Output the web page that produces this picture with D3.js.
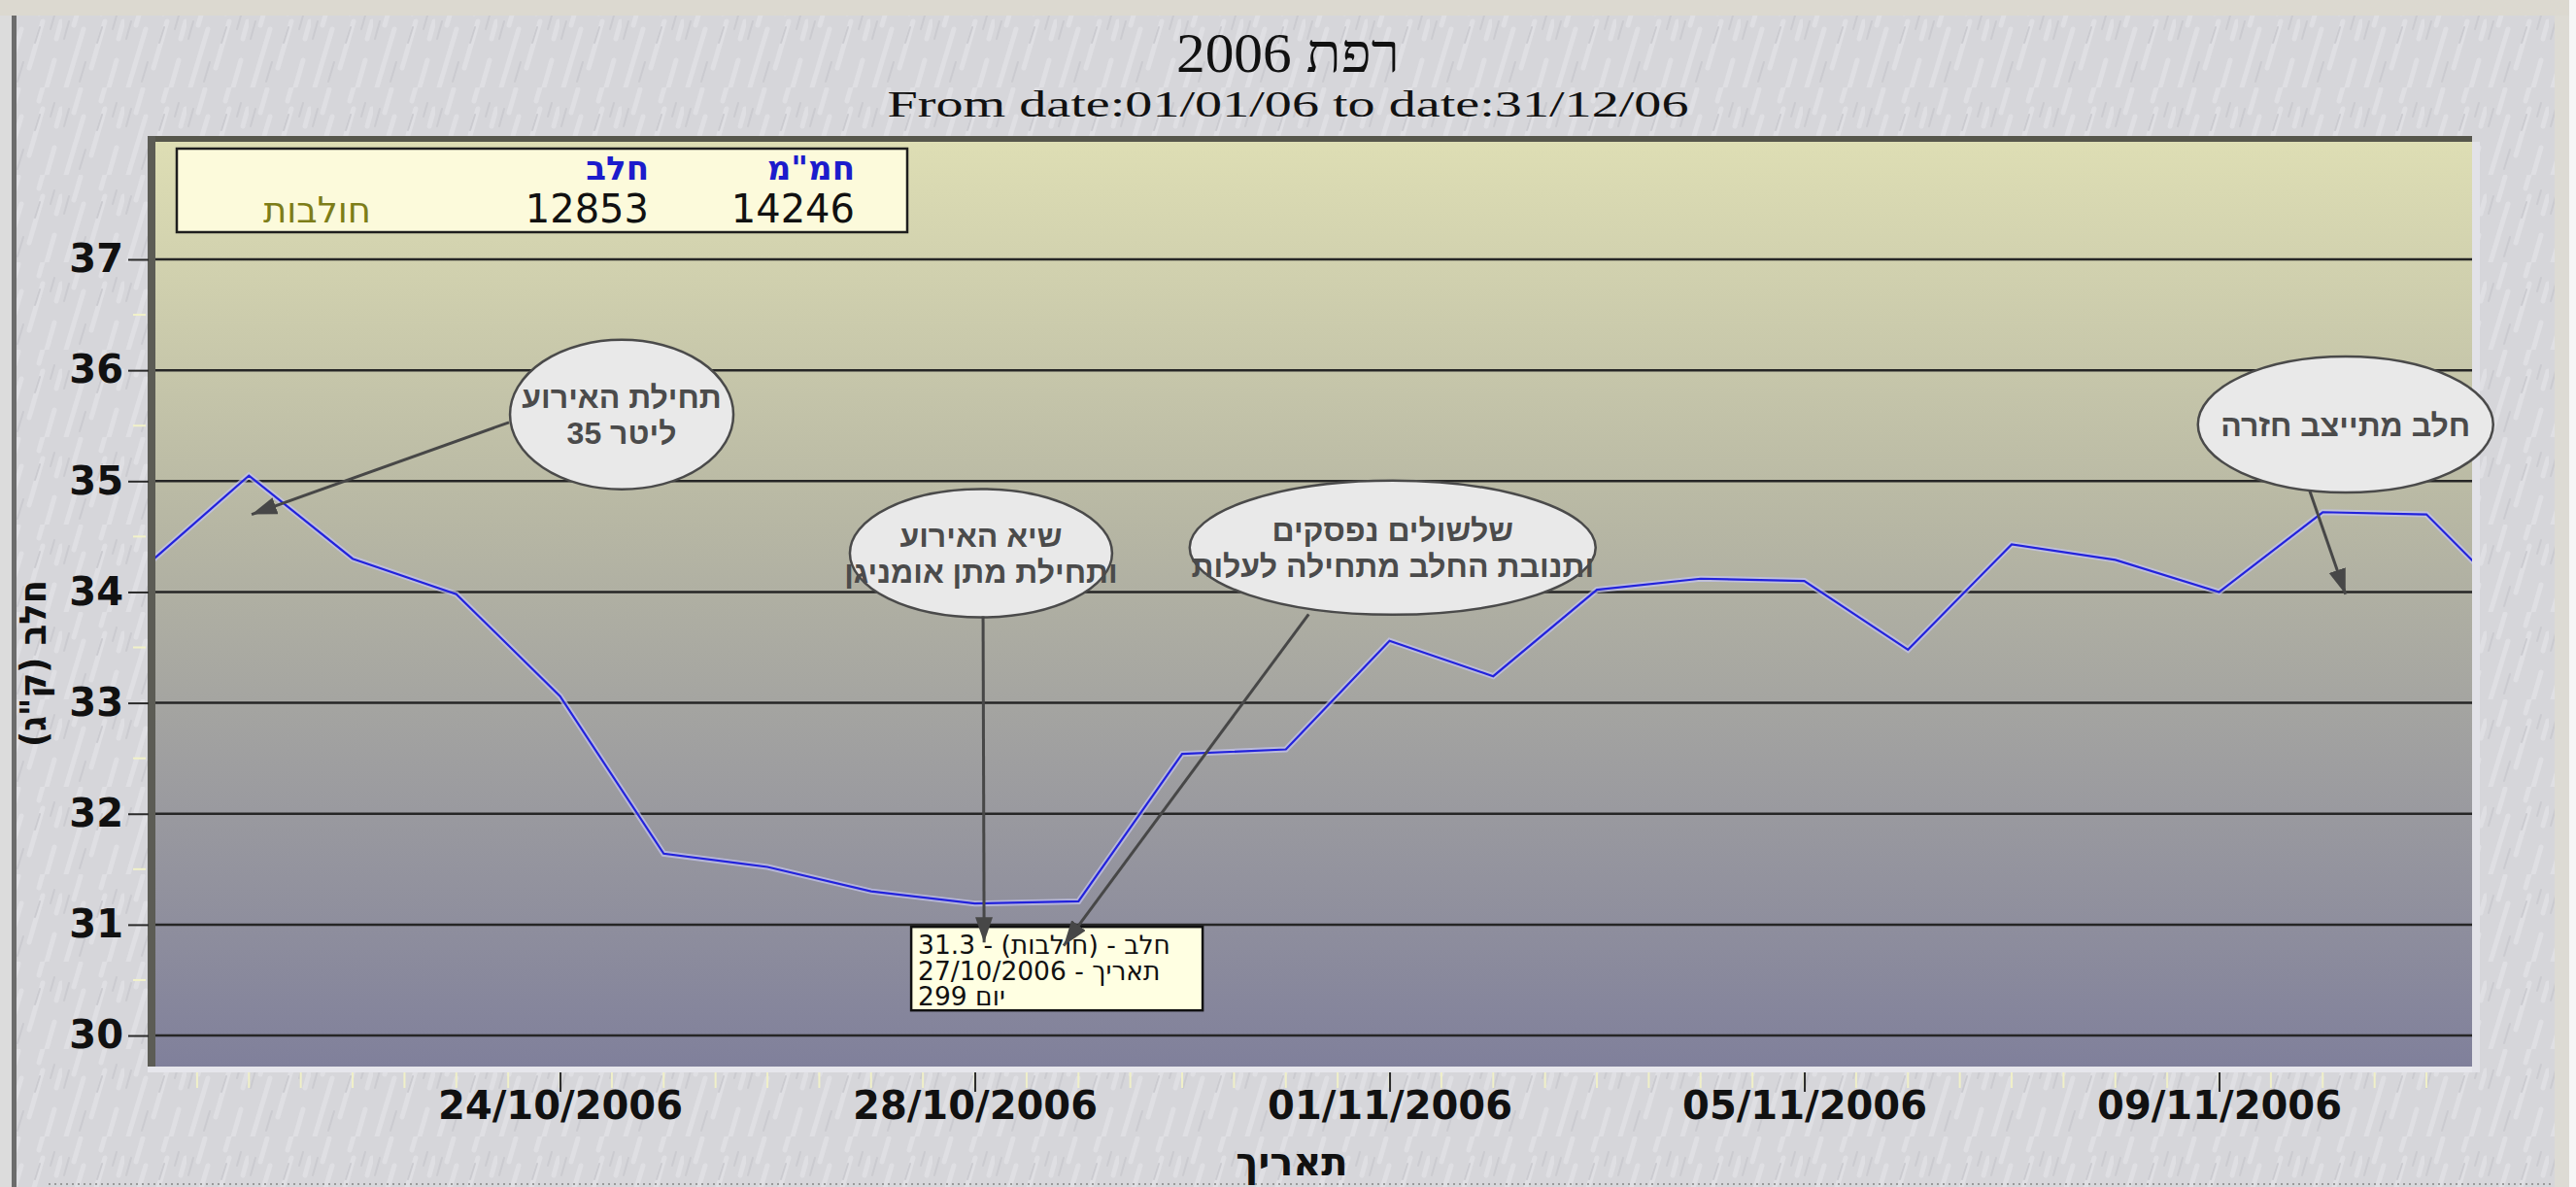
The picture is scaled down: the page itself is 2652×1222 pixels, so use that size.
<!DOCTYPE html>
<html>
<head>
<meta charset="utf-8">
<script src="https://cdn.jsdelivr.net/npm/d3@7"></script>
<style>
  body { margin: 0; background: #fff; }
  svg { display: block; }
</style>
</head>
<body>
<svg id="chart" width="2652" height="1222"></svg>
<script>
// daily milk per cow (kg)
var days = ["20/10/2006", "21/10/2006", "22/10/2006", "23/10/2006", "24/10/2006", "25/10/2006",
            "26/10/2006", "27/10/2006", "28/10/2006", "29/10/2006", "30/10/2006", "31/10/2006",
            "01/11/2006", "02/11/2006", "03/11/2006", "04/11/2006", "05/11/2006", "06/11/2006",
            "07/11/2006", "08/11/2006", "09/11/2006", "10/11/2006", "11/11/2006", "12/11/2006"];
var milk = [34.23, 35.05, 34.30, 33.98, 33.06, 31.64,
            31.52, 31.30, 31.19, 31.21, 32.54, 32.58,
            33.56, 33.24, 34.02, 34.12, 34.10, 33.48,
            34.43, 34.29, 34.00, 34.72, 34.70, 33.76];
var xTickLabels = ["24/10/2006", "28/10/2006", "01/11/2006", "05/11/2006", "09/11/2006"];
var yTicks = [30, 31, 32, 33, 34, 35, 36, 37];

var legendHeads = ['חמ"מ', 'חלב'];
var legendValues = ['14246', '12853'];
var legendRowName = 'חולבות';

var tipLines = ['חלב - (חולבות) - 31.3', 'תאריך - 27/10/2006', 'יום 299'];

// callouts: centre given as (day from 20/10, milk value)
var notes = [
  { day: 4.595, v: 35.60, rx: 115, ry: 77, lines: ['תחילת האירוע', '35 ליטר'] },
  { day: 8.06,  v: 34.35, rx: 135, ry: 66, lines: ['שיא האירוע', 'ותחילת מתן אומניגן'] },
  { day: 12.03, v: 34.40, rx: 209, ry: 69, lines: ['שלשולים נפסקים', 'ותנובת החלב מתחילה לעלות'] },
  { day: 21.22, v: 35.51, rx: 152, ry: 70, lines: ['חלב מתייצב חזרה'] }
];
var arrows = [
  { from: [3.508, 35.53], to: [1.026, 34.70] },
  { from: [8.08, 33.78],  to: [8.09, 30.84] },
  { from: [11.22, 33.80], to: [8.857, 30.81] },
  { from: [20.875, 34.91], to: [21.22, 33.98] }
];

var W = 2652, H = 1222;
var L = 160, R = 2545, T = 146, B = 1098;
var DAY = 864e5;

var parseDay = d3.utcParse("%d/%m/%Y");
var fmtDay = d3.utcFormat("%d/%m/%Y");
var dates = days.map(parseDay);
var data = dates.map(function(d, i) { return { date: d, v: milk[i] }; });
var t0 = +dates[0];
function dayDate(n) { return new Date(t0 + n * DAY); }

var x = d3.scaleUtc().domain([dayDate(0.098), dayDate(22.44)]).range([L, R]);
var y = d3.scaleLinear().domain([29.72, 38.06]).range([B, T]);

var svg = d3.select("#chart");
var defs = svg.append("defs");

// background texture
var pat = defs.append("pattern").attr("id", "tex")
  .attr("patternUnits", "userSpaceOnUse").attr("width", 64).attr("height", 90);
pat.append("rect").attr("width", 64).attr("height", 90).attr("fill", "#d6d6da");
pat.append("path")
  .attr("d", "M4,90 L22,30 M30,70 L44,22 M48,90 L56,62 M12,26 L19,2 M40,14 L44,0 M58,40 L63,22")
  .attr("stroke", "#dfdfe3").attr("stroke-width", 5).attr("stroke-linecap", "round");
pat.append("path")
  .attr("d", "M18,84 L24,64 M36,44 L41,28 M2,40 L7,22 M52,30 L56,16")
  .attr("stroke", "#cbcbd0").attr("stroke-width", 2).attr("stroke-linecap", "round");

var grad = defs.append("linearGradient").attr("id", "plotbg")
  .attr("x1", 0).attr("y1", 0).attr("x2", 0).attr("y2", 1);
grad.append("stop").attr("offset", "0%").attr("stop-color", "#dedeb4");
grad.append("stop").attr("offset", "40%").attr("stop-color", "#b8b8a4");
grad.append("stop").attr("offset", "100%").attr("stop-color", "#80809b");

defs.append("clipPath").attr("id", "clip")
  .append("rect").attr("x", L).attr("y", T).attr("width", R - L).attr("height", B - T);

defs.append("marker").attr("id", "head")
  .attr("markerUnits", "userSpaceOnUse")
  .attr("markerWidth", 30).attr("markerHeight", 20)
  .attr("refX", 26).attr("refY", 9).attr("orient", "auto")
  .append("path").attr("d", "M0,0 L26,9 L0,18 Z").attr("fill", "#474747");

// page + frame
svg.append("rect").attr("width", W).attr("height", H).attr("fill", "url(#tex)");
svg.append("rect").attr("x", 0).attr("y", 0).attr("width", W).attr("height", 16).attr("fill", "#dcd9d0");
svg.append("rect").attr("x", 0).attr("y", 16).attr("width", 12).attr("height", H).attr("fill", "#dcdcdc");
svg.append("rect").attr("x", 12).attr("y", 16).attr("width", 5).attr("height", H).attr("fill", "#6c6c6c");
svg.append("rect").attr("x", 2630).attr("y", 16).attr("width", 15).attr("height", H).attr("fill", "#dddbd4");
svg.append("rect").attr("x", 2645).attr("y", 0).attr("width", 7).attr("height", H).attr("fill", "#f6f6f6");
svg.append("line").attr("x1", 50).attr("x2", 2630).attr("y1", 1219).attr("y2", 1219)
  .attr("stroke", "#9a9a9a").attr("stroke-width", 2).attr("stroke-dasharray", "2,4");

// titles
svg.append("text").attr("x", 1326).attr("y", 74)
  .attr("text-anchor", "middle")
  .attr("font-family", "Liberation Serif").attr("font-size", 56)
  .attr("textLength", 230).attr("lengthAdjust", "spacingAndGlyphs")
  .attr("fill", "#111").text("רפת 2006");
svg.append("text").attr("x", 1326).attr("y", 120)
  .attr("text-anchor", "middle")
  .attr("font-family", "Liberation Serif").attr("font-size", 38)
  .attr("textLength", 825).attr("lengthAdjust", "spacingAndGlyphs")
  .attr("fill", "#111").text("From date:01/01/06 to date:31/12/06");

// plot box with the 3D edges
svg.append("rect").attr("x", L).attr("y", T).attr("width", R - L).attr("height", B - T)
  .attr("fill", "url(#plotbg)");
svg.append("rect").attr("x", 152).attr("y", 140).attr("width", R - 152).attr("height", T - 140)
  .attr("fill", "#56564b");
svg.append("rect").attr("x", 152).attr("y", 140).attr("width", L - 152).attr("height", B - 140)
  .attr("fill", "#5c5c55");
svg.append("rect").attr("x", 152).attr("y", B).attr("width", R + 8 - 152).attr("height", 6)
  .attr("fill", "#e6e6ec");
svg.append("rect").attr("x", R).attr("y", T).attr("width", 8).attr("height", B - T + 6)
  .attr("fill", "#e2e2e8");

// gridlines
svg.append("g").selectAll("line").data(yTicks).enter().append("line")
  .attr("x1", L).attr("x2", R)
  .attr("y1", function(d) { return y(d); }).attr("y2", function(d) { return y(d); })
  .attr("stroke", "#262626").attr("stroke-width", 2.5);

// minor ticks
var halfValues = yTicks.slice(0, -1).map(function(d) { return d + 0.5; });
svg.append("g").selectAll("line").data(halfValues).enter().append("line")
  .attr("x1", 137).attr("x2", 150)
  .attr("y1", function(d) { return y(d); }).attr("y2", function(d) { return y(d); })
  .attr("stroke", "#f2f2c8").attr("stroke-width", 2);
var halfDays = d3.utcHour.every(12).range(x.domain()[0], x.domain()[1]);
svg.append("g").selectAll("line").data(halfDays).enter().append("line")
  .attr("x1", function(d) { return x(d); }).attr("x2", function(d) { return x(d); })
  .attr("y1", 1104).attr("y2", 1120)
  .attr("stroke", "#f0f0c8").attr("stroke-width", 2);

// axes
var yAxis = svg.append("g").attr("transform", "translate(153,0)")
  .call(d3.axisLeft(y).tickValues(yTicks).tickSize(21).tickPadding(5).tickFormat(d3.format("d")));
var xAxis = svg.append("g").attr("transform", "translate(0,1104)")
  .call(d3.axisBottom(x).tickValues(xTickLabels.map(parseDay)).tickSize(20).tickPadding(0)
        .tickFormat(fmtDay));
[yAxis, xAxis].forEach(function(g) {
  g.select(".domain").remove();
  g.selectAll(".tick line").attr("stroke", "#2a2a2a").attr("stroke-width", 2);
  g.selectAll(".tick text").attr("fill", "#111")
    .attr("font-family", "DejaVu Sans").attr("font-weight", "bold").attr("font-size", 40);
});

svg.append("text").attr("x", 1330).attr("y", 1210).attr("text-anchor", "middle")
  .attr("font-family", "DejaVu Sans").attr("font-weight", "bold").attr("font-size", 40)
  .attr("fill", "#111").text("תאריך");
svg.append("text").attr("transform", "translate(47,683) rotate(-90)")
  .attr("text-anchor", "middle")
  .attr("font-family", "DejaVu Sans").attr("font-weight", "bold").attr("font-size", 38)
  .attr("textLength", 172).attr("lengthAdjust", "spacingAndGlyphs")
  .attr("fill", "#111").text('חלב (ק"ג)');

// milk line
var line = d3.line().x(function(d) { return x(d.date); }).y(function(d) { return y(d.v); });
var lineG = svg.append("g").attr("clip-path", "url(#clip)");
lineG.append("path").datum(data).attr("d", line).attr("fill", "none")
  .attr("stroke", "#c4c4f2").attr("stroke-opacity", 0.7).attr("stroke-width", 6);
lineG.append("path").datum(data).attr("d", line).attr("fill", "none")
  .attr("stroke", "#2222dc").attr("stroke-width", 2.2);

// legend table
var lg = svg.append("g");
lg.append("rect").attr("x", 182).attr("y", 153).attr("width", 752).attr("height", 86)
  .attr("fill", "#fcfadb").attr("stroke", "#1e1e1e").attr("stroke-width", 2.5);
var colRight = [880, 668];
lg.selectAll("text.head").data(legendHeads).enter().append("text").attr("class", "head")
  .attr("x", function(d, i) { return colRight[i]; }).attr("y", 185)
  .attr("text-anchor", "end").attr("font-family", "DejaVu Sans").attr("font-weight", "bold")
  .attr("font-size", 34)
  .attr("fill", "#1c1ccc").text(function(d) { return d; });
lg.selectAll("text.val").data(legendValues).enter().append("text").attr("class", "val")
  .attr("x", function(d, i) { return colRight[i]; }).attr("y", 229)
  .attr("text-anchor", "end").attr("font-family", "DejaVu Sans").attr("font-size", 40)
  .attr("fill", "#111").text(function(d) { return d; });
lg.append("text").attr("x", 382).attr("y", 229).attr("text-anchor", "end")
  .attr("font-family", "DejaVu Sans").attr("font-size", 37)
  .attr("fill", "#7d7d18").text(legendRowName);

// callout ellipses
var ng = svg.append("g").selectAll("g").data(notes).enter().append("g")
  .attr("transform", function(d) { return "translate(" + x(dayDate(d.day)) + "," + y(d.v) + ")"; });
ng.append("ellipse").attr("rx", function(d) { return d.rx; }).attr("ry", function(d) { return d.ry; })
  .attr("fill", "#e9e9e9").attr("stroke", "#4a4a4a").attr("stroke-width", 2.5);
ng.selectAll("text").data(function(d) { return d.lines; }).enter().append("text")
  .attr("text-anchor", "middle")
  .attr("y", function(d, i, nodes) { return (i - (nodes.length - 1) / 2) * 37 + 12; })
  .attr("font-family", "Liberation Sans").attr("font-weight", "bold").attr("font-size", 32)
  .attr("fill", "#4b4b4b").text(function(d) { return d; });

// tooltip
var tipLeft = x(dayDate(7.387)), tipTop = y(30.98);
svg.append("rect").attr("x", tipLeft).attr("y", tipTop).attr("width", 300).attr("height", 86)
  .attr("fill", "#ffffe2").attr("stroke", "#111").attr("stroke-width", 2.5);
svg.append("g").selectAll("text").data(tipLines).enter().append("text")
  .attr("x", tipLeft + 7).attr("y", function(d, i) { return tipTop + 28 + i * 26.5; })
  .attr("font-family", "DejaVu Sans").attr("font-size", 26.5)
  .attr("fill", "#111").text(function(d) { return d; });

// arrows
svg.append("g").selectAll("line").data(arrows).enter().append("line")
  .attr("x1", function(d) { return x(dayDate(d.from[0])); })
  .attr("y1", function(d) { return y(d.from[1]); })
  .attr("x2", function(d) { return x(dayDate(d.to[0])); })
  .attr("y2", function(d) { return y(d.to[1]); })
  .attr("stroke", "#474747").attr("stroke-width", 3).attr("marker-end", "url(#head)");
</script>
</body>
</html>
